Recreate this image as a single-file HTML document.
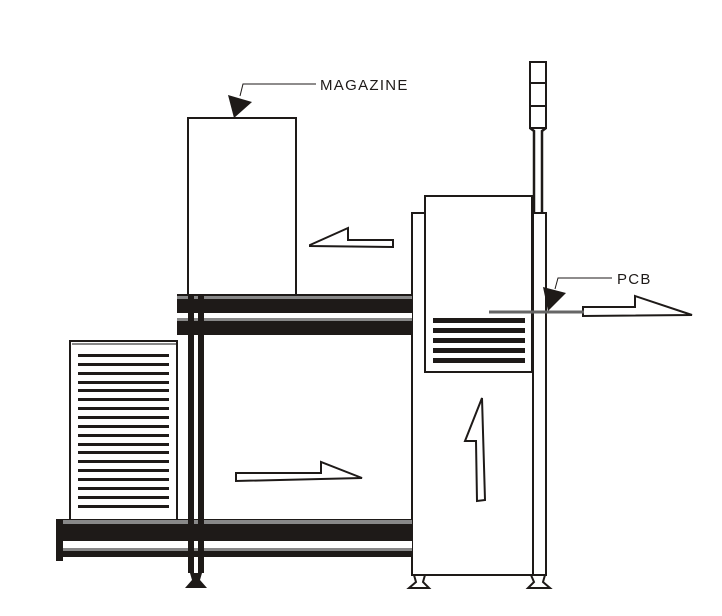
<!DOCTYPE html>
<html><head><style>html,body{margin:0;padding:0;background:#fff}svg{display:block}</style></head>
<body>
<svg width="722" height="616" viewBox="0 0 722 616" xmlns="http://www.w3.org/2000/svg">
<g fill="none" stroke="#1e1a18" stroke-width="2">
<!-- tower -->
<rect x="530" y="62" width="16" height="66" fill="#fff"/>
<line x1="530" y1="83" x2="546" y2="83"/>
<line x1="530" y1="106" x2="546" y2="106"/>
<path d="M530 128 L534 131 L534 213 M546 128 L542 131 L542 213" stroke-width="2.5"/>
<!-- machine body -->
<path d="M425 213 L412 213 L412 575 L546 575 L546 213 L533 213" fill="#fff"/>
<rect x="425" y="196" width="107" height="176" fill="#fff"/>
<line x1="533" y1="213" x2="533" y2="575"/>
<!-- magazine top -->
<rect x="188" y="118" width="108" height="177" fill="#fff"/>
<!-- left magazine -->
<rect x="70" y="341" width="107" height="180" fill="#fff"/>
<line x1="72" y1="344" x2="176" y2="344" stroke="#888" stroke-width="2"/>
</g>
<g fill="#1e1a18">
<rect x="433" y="318" width="92" height="5"/><rect x="433" y="328" width="92" height="5"/>
<rect x="433" y="338" width="92" height="5"/><rect x="433" y="348" width="92" height="5"/>
<rect x="433" y="358" width="92" height="5"/>
</g>
<g fill="#1e1a18">
<rect x="78" y="354" width="91" height="3"/><rect x="78" y="363" width="91" height="3"/>
<rect x="78" y="372" width="91" height="3"/><rect x="78" y="381" width="91" height="3"/>
<rect x="78" y="389" width="91" height="3"/><rect x="78" y="398" width="91" height="3"/>
<rect x="78" y="407" width="91" height="3"/><rect x="78" y="416" width="91" height="3"/>
<rect x="78" y="425" width="91" height="3"/><rect x="78" y="434" width="91" height="3"/>
<rect x="78" y="443" width="91" height="3"/><rect x="78" y="451" width="91" height="3"/>
<rect x="78" y="460" width="91" height="3"/><rect x="78" y="469" width="91" height="3"/>
<rect x="78" y="478" width="91" height="3"/><rect x="78" y="487" width="91" height="3"/>
<rect x="78" y="496" width="91" height="3"/><rect x="78" y="505" width="91" height="3"/>
</g>
<!-- top rail -->
<rect x="177" y="294" width="235" height="41" fill="#1e1a18"/>
<rect x="177" y="296" width="235" height="3" fill="#888"/>
<rect x="177" y="313" width="235" height="5" fill="#fff"/>
<rect x="177" y="318" width="235" height="3" fill="#888"/>
<!-- bottom rail -->
<rect x="57" y="519" width="355" height="38" fill="#1e1a18"/>
<rect x="63" y="520" width="349" height="4" fill="#888"/>
<rect x="63" y="541" width="349" height="7" fill="#fff"/>
<rect x="63" y="548" width="349" height="3" fill="#888"/>
<rect x="56" y="519" width="7" height="42" fill="#1e1a18"/>
<!-- posts -->
<rect x="188" y="295" width="6" height="278" fill="#1e1a18"/>
<rect x="198" y="295" width="6" height="278" fill="#1e1a18"/>
<path d="M190 573 L202 573 L200 580 L207 588 L185 588 L192 580Z" fill="#1e1a18"/>
<!-- machine feet -->
<g fill="#fff" stroke="#1e1a18" stroke-width="2">
<path d="M414 575 L425 575 L423 582 L429 588 L409 588 L416 582Z"/>
<path d="M531 575 L545 575 L543 582 L550 588 L528 588 L534 582Z"/>
</g>
<g fill="#fff" stroke="#1e1a18" stroke-width="2">
<polygon points="310,245 348,228 348,240 393,240 393,247 310,246"/>
<polygon points="236,473 321,473 321,462 362,478 236,481"/>
<polygon points="482,398 465,441 476,441 477,501 485,500"/>
<polygon points="583,307 635,307 635,296 692,315 583,316"/>
</g>
<line x1="489" y1="312" x2="584" y2="312" stroke="#666" stroke-width="3"/>
<g stroke="#1e1a18" stroke-width="1" fill="none">
<path d="M316 84 L243 84 L240 96"/>
<path d="M612 278 L558 278 L555 289"/>
</g>
<polygon points="228,95 252,102 234,118" fill="#1e1a18"/>
<polygon points="543,287 566,293 548,311" fill="#1e1a18"/>
<g font-family="Liberation Sans, sans-serif" font-size="15" fill="#1e1a18" letter-spacing="1.3">
<text x="320" y="90">MAGAZINE</text>
<text x="617" y="284">PCB</text>
</g>
</svg>
</body></html>
